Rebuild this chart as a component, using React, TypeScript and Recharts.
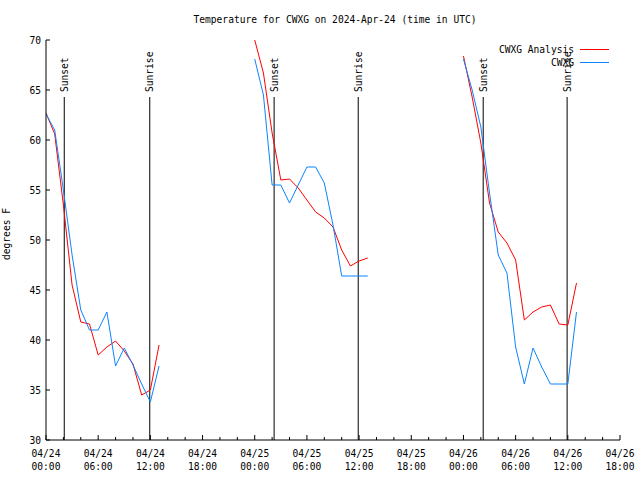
import React from "react";
import { LineChart, Line, XAxis, YAxis, ReferenceLine } from "recharts";

const hours = [0, 1, 2, 3, 4, 5, 6, 7, 8, 9, 10, 11, 12, 13, 18, 24, 25, 26, 27, 28, 29, 30, 31, 32, 33, 34, 35, 36, 37, 42, 48, 49, 50, 51, 52, 53, 54, 55, 56, 57, 58, 59, 60, 61];
const analysis: (number | null)[] = [62.7, 60.6, 53.5, 45.5, 41.8, 41.6, 38.5, 39.3, 39.9, 38.9, 37.6, 34.5, 35.0, 39.5, null, 70.0, 66.7, 60.7, 56.0, 56.1, 55.2, 54.0, 52.8, 52.2, 51.3, 49.0, 47.4, 47.9, 48.2, null, 68.4, 64.3, 59.7, 53.7, 50.8, 49.7, 48.0, 42.0, 42.8, 43.3, 43.5, 41.6, 41.5, 45.7];
const observed: (number | null)[] = [62.6, 61.0, 55.0, 48.5, 43.0, 41.0, 41.0, 42.8, 37.4, 39.2, 37.5, 35.6, 33.8, 37.4, null, 68.1, 64.5, 55.5, 55.5, 53.7, 55.5, 57.3, 57.3, 55.7, 51.5, 46.4, 46.4, 46.4, 46.4, null, 68.1, 65.0, 61.3, 54.7, 48.5, 46.7, 39.3, 35.6, 39.2, 37.3, 35.6, 35.6, 35.6, 42.8];

const xTicks = [0, 2, 4, 6, 8, 10, 12, 14, 16, 18, 20, 22, 24, 26, 28, 30, 32, 34, 36, 38, 40, 42, 44, 46, 48, 50, 52, 54, 56, 58, 60, 62, 64, 66];
const dateLabels = ["04/24", "04/24", "04/24", "04/24", "04/25", "04/25", "04/25", "04/25", "04/26", "04/26", "04/26", "04/26"];
const timeLabels = ["00:00", "06:00", "12:00", "18:00", "00:00", "06:00", "12:00", "18:00", "00:00", "06:00", "12:00", "18:00"];
const yTicks = [30, 35, 40, 45, 50, 55, 60, 65, 70];

const sunEvents = [
  { hour: 2.1, label: "Sunset" },
  { hour: 11.93, label: "Sunrise" },
  { hour: 26.23, label: "Sunset" },
  { hour: 35.9, label: "Sunrise" },
  { hour: 50.27, label: "Sunset" },
  { hour: 59.92, label: "Sunrise" },
];
const sunLineTop = 64.3;

const title = "Temperature for CWXG on 2024-Apr-24 (time in UTC)";
const yLabel = "degrees F";
const seriesNames = ["CWXG Analysis", "CWXG"];
const RED = "#ff0000";
const BLUE = "#0a84ff";

const FONT = "'DejaVu Sans Mono', 'Liberation Mono', monospace";
const FS = 9.6;

const data = hours.map((h, i) => ({ hour: h, analysis: analysis[i], observed: observed[i] }));

const BottomTick = (props: any) => {
  const { x, y, payload } = props;
  const v = payload.value;
  const major = v % 6 === 0;
  const idx = Math.round(v / 6);
  return (
    <g>
      <line x1={x} y1={y} x2={x} y2={y - (major ? 5 : 3)} stroke="#000" strokeWidth={1} />
      {major && (
        <text x={x} y={y + 17} textAnchor="middle" fontFamily={FONT} fontSize={FS} fill="#000">
          {dateLabels[idx]}
        </text>
      )}
      {major && (
        <text x={x} y={y + 30} textAnchor="middle" fontFamily={FONT} fontSize={FS} fill="#000">
          {timeLabels[idx]}
        </text>
      )}
    </g>
  );
};

const TopTick = (props: any) => {
  const { x, y, payload } = props;
  const major = payload.value % 6 === 0;
  return <line x1={x} y1={y} x2={x} y2={y + (major ? 5 : 3)} stroke="#000" strokeWidth={1} />;
};

const LeftTick = (props: any) => {
  const { x, y, payload } = props;
  return (
    <g>
      <line x1={x} y1={y} x2={x + 4} y2={y} stroke="#000" strokeWidth={1} />
      <text x={x - 5} y={y + 3.5} textAnchor="end" fontFamily={FONT} fontSize={FS} fill="#000">
        {payload.value}
      </text>
    </g>
  );
};

const RightTick = (props: any) => {
  const { x, y } = props;
  return <line x1={x} y1={y} x2={x - 4} y2={y} stroke="#000" strokeWidth={1} />;
};

const makeSunLabel = (text: string) => (props: any) => {
  const vb = props.viewBox || {};
  const x = vb.x;
  const y = vb.y;
  if (x == null || y == null) return null;
  return (
    <text
      x={x + 3.5}
      y={y - 5}
      transform={`rotate(-90 ${x + 3.5} ${y - 5})`}
      textAnchor="start"
      fontFamily={FONT}
      fontSize={FS}
      fill="#000"
    >
      {text}
    </text>
  );
};

export default function App() {
  return (
    <div style={{ position: "absolute", left: 0, top: 0, width: 640, height: 480, background: "#fff" }}>
      <LineChart
        width={640}
        height={480}
        data={data}
        margin={{ top: 40, right: 20, bottom: 0, left: 6 }}
      >
        <XAxis
          dataKey="hour"
          type="number"
          domain={[0, 66]}
          ticks={xTicks}
          interval={0}
          height={40}
          tickSize={0}
          tickMargin={0}
          tickLine={false}
          tick={<BottomTick />}
          axisLine={{ stroke: "#000" }}
          allowDataOverflow
        />
        <XAxis
          xAxisId="top"
          orientation="top"
          dataKey="hour"
          type="number"
          domain={[0, 66]}
          ticks={xTicks}
          interval={0}
          height={0}
          tickSize={0}
          tickMargin={0}
          tickLine={false}
          tick={<TopTick />}
          axisLine={{ stroke: "#000" }}
          allowDataOverflow
        />
        <YAxis
          type="number"
          domain={[30, 70]}
          ticks={yTicks}
          interval={0}
          width={40}
          tickSize={0}
          tickMargin={0}
          tickLine={false}
          tick={<LeftTick />}
          axisLine={{ stroke: "#000" }}
          allowDataOverflow
        />
        <YAxis
          yAxisId="right"
          orientation="right"
          type="number"
          domain={[30, 70]}
          ticks={yTicks}
          interval={0}
          width={0}
          tickSize={0}
          tickMargin={0}
          tickLine={false}
          tick={<RightTick />}
          axisLine={{ stroke: "#000" }}
          allowDataOverflow
        />
        {sunEvents.map((s, i) => (
          <ReferenceLine
            key={i}
            segment={[
              { x: s.hour, y: 30 },
              { x: s.hour, y: sunLineTop },
            ]}
            stroke="#000"
            strokeWidth={1}
            label={makeSunLabel(s.label)}
            ifOverflow="visible"
          />
        ))}
        <Line
          type="linear"
          dataKey="analysis"
          stroke={RED}
          strokeWidth={1}
          dot={false}
          activeDot={false}
          connectNulls={false}
          isAnimationActive={false}
        />
        <Line
          type="linear"
          dataKey="observed"
          stroke={BLUE}
          strokeWidth={1}
          dot={false}
          activeDot={false}
          connectNulls={false}
          isAnimationActive={false}
        />
      </LineChart>
      <svg
        width={640}
        height={480}
        style={{ position: "absolute", left: 0, top: 0, pointerEvents: "none" }}
      >
        <text x={335} y={23} textAnchor="middle" fontFamily={FONT} fontSize={FS} fill="#000">
          {title}
        </text>
        <text
          x={10}
          y={234}
          transform="rotate(-90 10 234)"
          textAnchor="middle"
          fontFamily={FONT}
          fontSize={FS}
          fill="#000"
        >
          {yLabel}
        </text>
        <text x={574} y={53} textAnchor="end" fontFamily={FONT} fontSize={FS} fill="#000">
          {seriesNames[0]}
        </text>
        <line x1={580} y1={49.5} x2={609} y2={49.5} stroke={RED} strokeWidth={1} />
        <text x={574} y={66} textAnchor="end" fontFamily={FONT} fontSize={FS} fill="#000">
          {seriesNames[1]}
        </text>
        <line x1={580} y1={62.5} x2={609} y2={62.5} stroke={BLUE} strokeWidth={1} />
      </svg>
    </div>
  );
}
